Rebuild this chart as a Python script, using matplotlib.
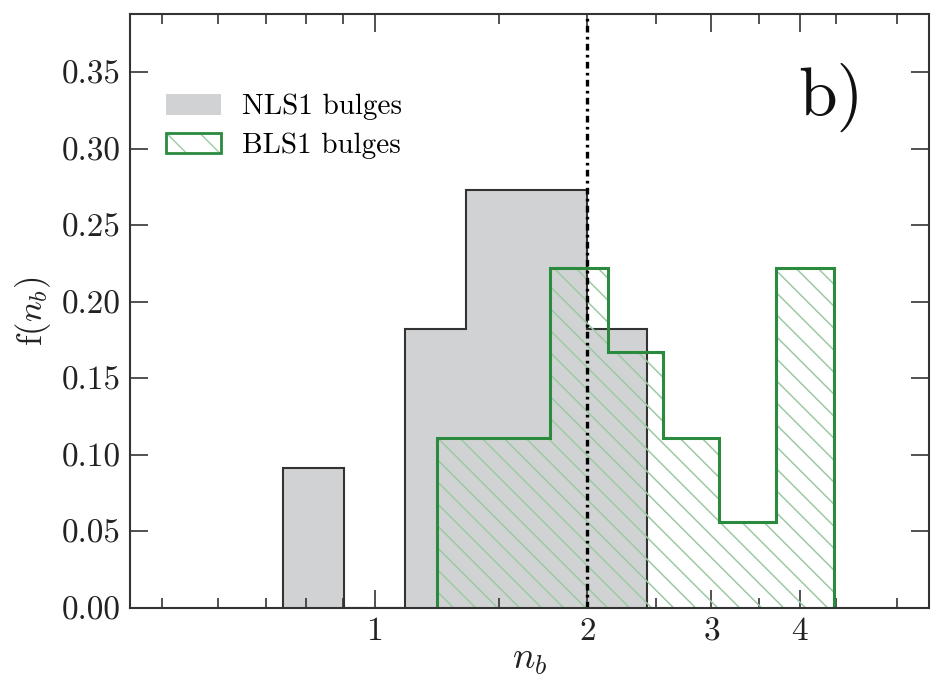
import numpy as np
import matplotlib.pyplot as plt
from matplotlib.patches import Patch
from matplotlib.collections import LineCollection
from matplotlib.transforms import IdentityTransform
from matplotlib.ticker import FixedLocator, FuncFormatter, NullFormatter, MultipleLocator

# Distribucion del indice de Sersic de los bulbos (n_b) para NLS1 y BLS1
# Fuente Computer Modern (cmr10 viene con matplotlib)
plt.rcParams['font.family'] = 'cmr10'
plt.rcParams['mathtext.fontset'] = 'cm'
plt.rcParams['axes.formatter.use_mathtext'] = True

# Bordes de los bins y fraccion de objetos en cada bin
bordes_nls1 = [0.74, 0.904, 1.103, 1.347, 1.644, 2.0, 2.43]
frac_nls1 = [0.091, 0.0, 0.182, 0.273, 0.273, 0.182]

bordes_bls1 = [1.224, 1.47, 1.77, 2.14, 2.56, 3.07, 3.70, 4.47]
frac_bls1 = [0.111, 0.111, 0.222, 0.167, 0.111, 0.056, 0.222]

n_corte = 2.0  # linea vertical n_b = 2

ticks_x = [1, 2, 3, 4]
ticks_x_menores = [0.5, 0.6, 0.7, 0.8, 0.9, 1.5, 2.5, 3.5, 4.5, 5.5]

gris = '#d1d2d4'
verde = '#2a8a3e'
verde_claro = '#9ccaa3'
borde = '#333333'

fig = plt.figure(figsize=(9.36, 6.75), dpi=100)
ax = fig.add_axes([0.139, 0.1, 0.8535, 0.879])

ax.set_xscale('log')
ax.set_xlim(0.45, 6.1)
ax.set_ylim(0, 0.388)

# NLS1: relleno gris con borde oscuro
ax.stairs(frac_nls1, bordes_nls1, fill=True, facecolor=gris, edgecolor=borde,
          linewidth=1.5, zorder=1)

# BLS1: rayado diagonal (en pixeles) recortado al histograma + contorno verde
zona_bls1 = ax.stairs(frac_bls1, bordes_bls1, fill=True, facecolor='none',
                      edgecolor='none', linewidth=0, zorder=2)
caja = ax.get_window_extent()
paso = 22.0
segs = []
for c in np.arange(caja.y0 - caja.width, caja.y1 + caja.width, paso):
    # recta y = c - (x - x0) en coordenadas de pantalla
    segs.append([(caja.x0, c), (caja.x1, c - caja.width)])
rayas = LineCollection(segs, colors=verde_claro, linewidths=1.1,
                       transform=IdentityTransform(), zorder=2)
ax.add_collection(rayas, autolim=False)
rayas.set_clip_path(zona_bls1)

ax.stairs(frac_bls1, bordes_bls1, fill=False, edgecolor=verde, linewidth=2.2, zorder=3)

ax.axvline(n_corte, color='black', linestyle=(0, (2, 1.3, 0.8, 1.3)), linewidth=2.4, zorder=4)

ax.xaxis.set_major_locator(FixedLocator(ticks_x))
ax.xaxis.set_major_formatter(FuncFormatter(lambda v, p: '%d' % v))
ax.xaxis.set_minor_locator(FixedLocator(ticks_x_menores))
ax.xaxis.set_minor_formatter(NullFormatter())
ax.yaxis.set_major_locator(MultipleLocator(0.05))
ax.yaxis.set_major_formatter(FuncFormatter(lambda v, p: '%.2f' % v))

ax.tick_params(which='both', direction='in', top=True, right=True, color=borde)
ax.tick_params(which='major', length=13, width=1.2, labelsize=24, pad=7, labelcolor='#222222')
ax.tick_params(which='minor', length=7.5, width=1.2)
for s in ax.spines.values():
    s.set_linewidth(1.5)
    s.set_color(borde)
    s.set_zorder(5)

ax.set_xlabel(r'$n_b$', fontsize=27, labelpad=-2, color='#222222')
ax.set_ylabel(r'f($n_b$)', fontsize=25, labelpad=6, color='#222222')

ax.text(0.877, 0.86, 'b)', transform=ax.transAxes, fontsize=50,
        ha='center', va='center', color='#111111')

manejadores = [
    Patch(facecolor=gris, edgecolor='none'),
    (Patch(facecolor='none', edgecolor=verde_claro, hatch='\\', linewidth=0),
     Patch(facecolor='none', edgecolor=verde, linewidth=2)),
]
ax.legend(manejadores, ['NLS1 bulges', 'BLS1 bulges'], loc='upper left',
          bbox_to_anchor=(0.012, 0.91), frameon=False, fontsize=21,
          handlelength=1.9, handleheight=0.72, labelspacing=0.42, handletextpad=0.7)

plt.savefig('out.png', dpi=100)
